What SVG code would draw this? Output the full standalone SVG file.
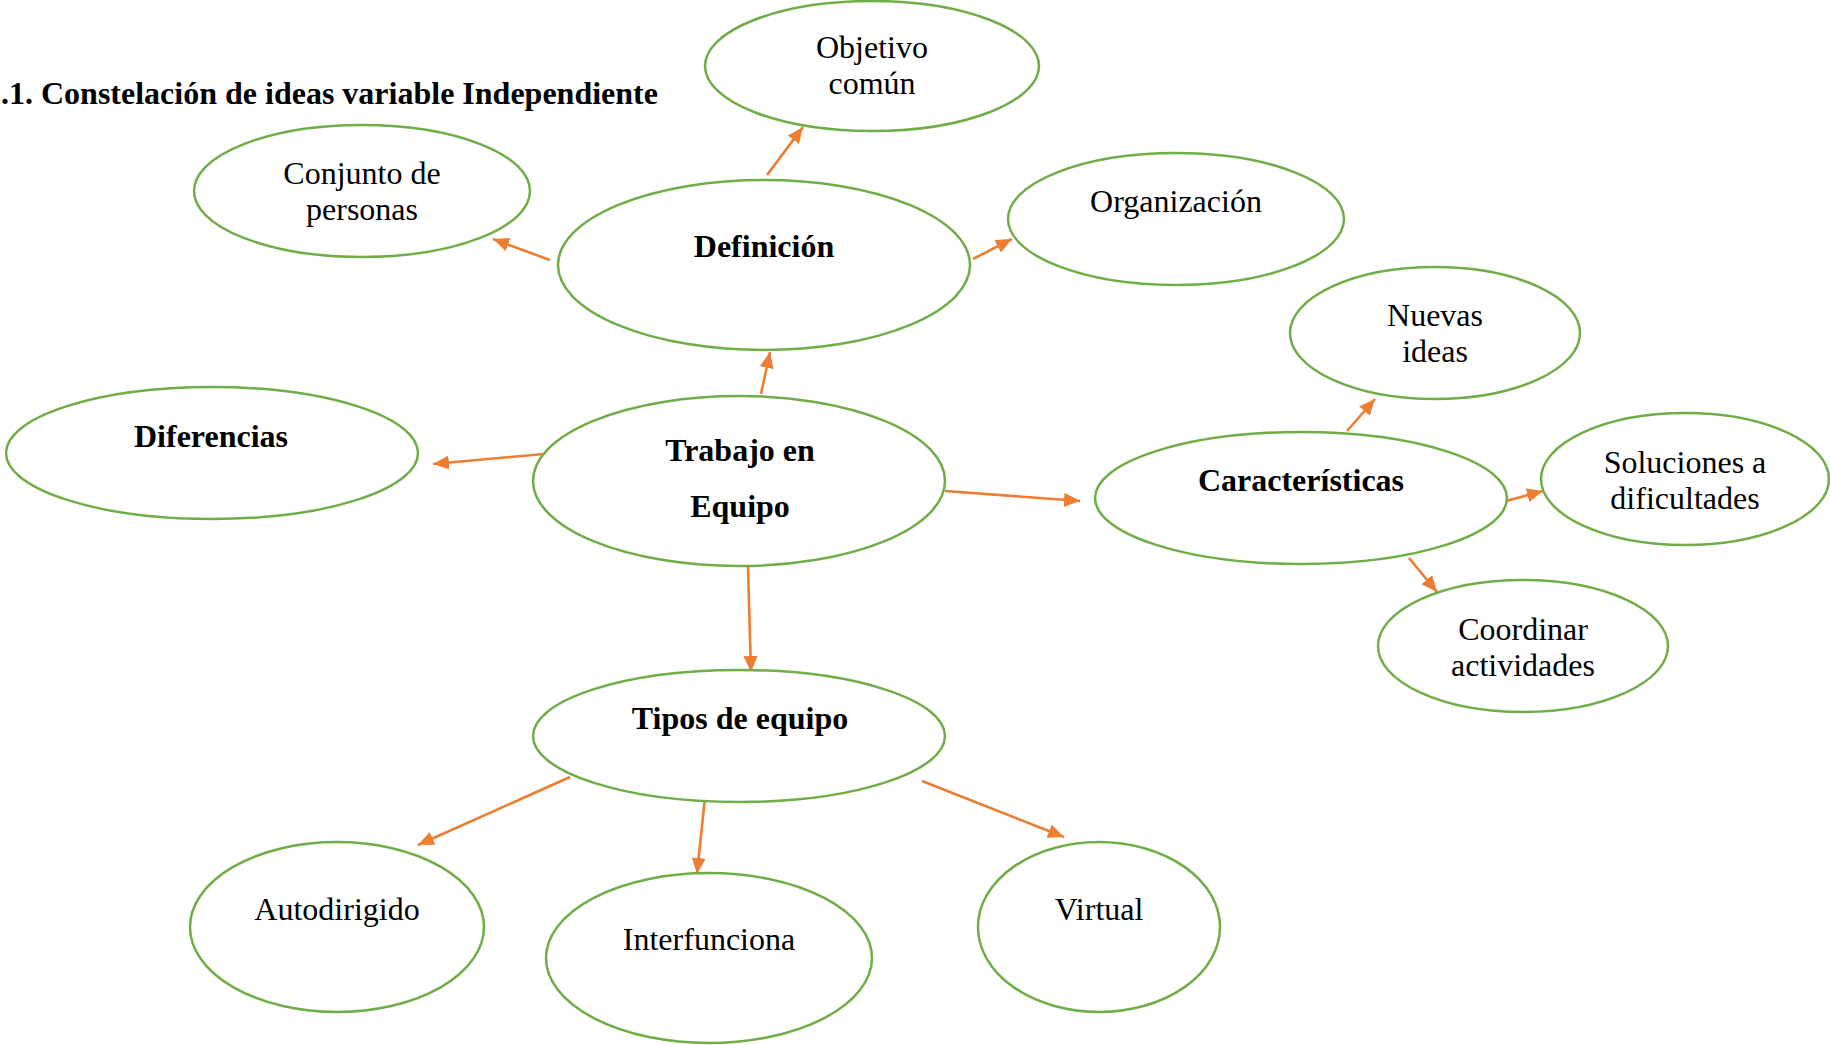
<svg xmlns="http://www.w3.org/2000/svg" width="1830" height="1045" viewBox="0 0 1830 1045">
<style>
.n ellipse{fill:#fff;stroke:#70AD47;stroke-width:2.5}
text{font-family:"Liberation Serif","Times New Roman",serif;font-size:32px;fill:#000;text-anchor:middle}
.b{font-weight:bold}
.c line{stroke:#ED7D31;stroke-width:2.6;marker-end:url(#ah)}
</style>
<defs>
<marker id="ah" markerUnits="userSpaceOnUse" markerWidth="16" markerHeight="14" refX="16" refY="7" orient="auto">
<path d="M0,0 L16,7 L0,14 z" fill="#ED7D31"/>
</marker>
</defs>
<rect width="1830" height="1045" fill="#fff"/>
<text class="b" x="1" y="104" style="text-anchor:start">.1. Constelación de ideas variable Independiente</text>

<g id="connectors" class="c">
<line x1="767" y1="175" x2="803" y2="127"/>
<line x1="550" y1="260" x2="493" y2="239"/>
<line x1="973" y1="259" x2="1012" y2="239"/>
<line x1="761" y1="394" x2="770" y2="352"/>
<line x1="544" y1="454" x2="433" y2="464"/>
<line x1="945" y1="491" x2="1080" y2="501"/>
<line x1="748" y1="567" x2="751" y2="672"/>
<line x1="1347" y1="431" x2="1375" y2="399"/>
<line x1="1506" y1="501" x2="1543" y2="491"/>
<line x1="1409" y1="558" x2="1437" y2="592"/>
<line x1="570" y1="777" x2="418" y2="845"/>
<line x1="705" y1="797" x2="697" y2="874"/>
<line x1="922" y1="781" x2="1064" y2="837"/>
</g>

<g id="objetivo" class="n"><ellipse cx="872" cy="66" rx="167" ry="65"/><text x="872" y="58">Objetivo</text><text x="872" y="94">común</text></g>
<g id="conjunto" class="n"><ellipse cx="362" cy="191" rx="168" ry="66"/><text x="362" y="184">Conjunto de</text><text x="362" y="220">personas</text></g>
<g id="definicion" class="n"><ellipse cx="764" cy="265" rx="206" ry="85"/><text class="b" x="764" y="257">Definición</text></g>
<g id="organizacion" class="n"><ellipse cx="1176" cy="219" rx="168" ry="66"/><text x="1176" y="212">Organización</text></g>
<g id="nuevas" class="n"><ellipse cx="1435" cy="333" rx="145" ry="66"/><text x="1435" y="326">Nuevas</text><text x="1435" y="362">ideas</text></g>
<g id="diferencias" class="n"><ellipse cx="212" cy="453" rx="206" ry="66"/><text class="b" x="211" y="447">Diferencias</text></g>
<g id="trabajo" class="n"><ellipse cx="739" cy="481" rx="206" ry="85"/><text class="b" x="740" y="461">Trabajo en</text><text class="b" x="740" y="517">Equipo</text></g>
<g id="caracteristicas" class="n"><ellipse cx="1301" cy="498" rx="206" ry="66"/><text class="b" x="1301" y="491">Características</text></g>
<g id="soluciones" class="n"><ellipse cx="1685" cy="479" rx="144" ry="66"/><text x="1685" y="473">Soluciones a</text><text x="1685" y="509">dificultades</text></g>
<g id="coordinar" class="n"><ellipse cx="1523" cy="646" rx="145" ry="66"/><text x="1523" y="640">Coordinar</text><text x="1523" y="676">actividades</text></g>
<g id="tipos" class="n"><ellipse cx="739" cy="736" rx="206" ry="66"/><text class="b" x="740" y="729">Tipos de equipo</text></g>
<g id="autodirigido" class="n"><ellipse cx="337" cy="927" rx="147" ry="85"/><text x="337" y="920">Autodirigido</text></g>
<g id="interfunciona" class="n"><ellipse cx="709" cy="958" rx="163" ry="85"/><text x="709" y="950">Interfunciona</text></g>
<g id="virtual" class="n"><ellipse cx="1099" cy="927" rx="121" ry="85"/><text x="1099" y="920">Virtual</text></g>
</svg>
